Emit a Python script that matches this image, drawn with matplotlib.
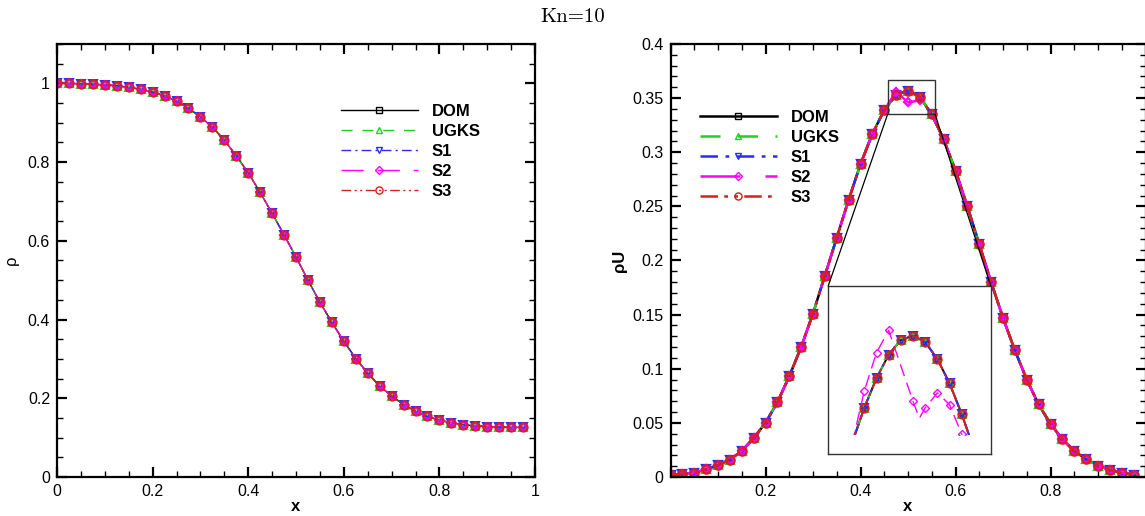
import matplotlib
matplotlib.use("Agg")
import matplotlib.pyplot as plt
from matplotlib.patches import Rectangle, ConnectionPatch
from matplotlib.ticker import MultipleLocator, FixedLocator

plt.rcParams['font.family'] = ['Liberation Sans', 'DejaVu Sans']

# grid points (cell positions)
x = [0.0, 0.025, 0.05, 0.075, 0.1, 0.125, 0.15, 0.175, 0.2, 0.225,
     0.25, 0.275, 0.3, 0.325, 0.35, 0.375, 0.4, 0.425, 0.45, 0.475,
     0.5, 0.525, 0.55, 0.575, 0.6, 0.625, 0.65, 0.675, 0.7, 0.725,
     0.75, 0.775, 0.8, 0.825, 0.85, 0.875, 0.9, 0.925, 0.95, 0.975]

rho = [1.000, 1.000, 0.999, 0.998, 0.996, 0.994, 0.990, 0.985, 0.978, 0.968,
       0.955, 0.937, 0.915, 0.889, 0.856, 0.816, 0.773, 0.723, 0.670, 0.615,
       0.559, 0.500, 0.444, 0.393, 0.345, 0.301, 0.264, 0.231, 0.206, 0.184,
       0.167, 0.154, 0.144, 0.138, 0.133, 0.130, 0.128, 0.127, 0.126, 0.126]

rhou = [0.002, 0.003, 0.004, 0.007, 0.011, 0.016, 0.024, 0.036, 0.050, 0.069,
        0.093, 0.120, 0.151, 0.186, 0.221, 0.256, 0.289, 0.317, 0.339, 0.353,
        0.357, 0.351, 0.335, 0.312, 0.283, 0.250, 0.215, 0.180, 0.147, 0.117,
        0.090, 0.067, 0.049, 0.035, 0.024, 0.0165, 0.0106, 0.0066, 0.0036, 0.0023]

# S2 deviates a little near the peak
rhou_s2 = list(rhou)
rhou_s2[19] = 0.356
rhou_s2[20] = 0.346
rhou_s2[21] = 0.348

# S2 curve shown in the zoom window
s2_zoom_x = [0.375, 0.4, 0.425, 0.45, 0.5, 0.513, 0.525, 0.55, 0.575, 0.6, 0.61]
s2_zoom_y = [0.255, 0.305, 0.341, 0.362, 0.295, 0.279, 0.289, 0.303, 0.292, 0.264, 0.25]

methods = ['DOM', 'UGKS', 'S1', 'S2', 'S3']
colors = ['black', '#1ed31e', '#2a2aff', '#ff00ff', '#d81e1e']
markers = ['s', '^', 'v', 'D', 'o']
msizes = [5, 5.5, 5.5, 4.5, 6]
styles = ['-', (0, (8, 7)), (0, (7, 3, 1.5, 3)), (0, (16, 10)), (0, (7, 2.5, 1.5, 2.5, 1.5, 2.5))]

rho_ticks = [0, 0.2, 0.4, 0.6, 0.8, 1.0]
rho_labels = ['0', '0.2', '0.4', '0.6', '0.8', '1']
x_ticks = [0, 0.2, 0.4, 0.6, 0.8, 1.0]
x1_labels = ['0', '0.2', '0.4', '0.6', '0.8', '1']
x2_labels = ['', '0.2', '0.4', '0.6', '0.8', '']
rhou_ticks = [0, 0.05, 0.1, 0.15, 0.2, 0.25, 0.3, 0.35, 0.4]
rhou_labels = ['0', '0.05', '0.1', '0.15', '0.2', '0.25', '0.3', '0.35', '0.4']

W, H = 1145, 516
fig = plt.figure(figsize=(W / 100, H / 100), dpi=100)
ax1 = fig.add_axes([57 / W, 39 / H, 478 / W, 433 / H])
ax2 = fig.add_axes([670.5 / W, 39 / H, 475 / W, 433 / H])


def style_axes(ax):
    for s in ax.spines.values():
        s.set_linewidth(1.6)
    ax.tick_params(which='both', direction='in', top=True, right=True, labelsize=11.5)
    ax.tick_params(which='major', length=7.5, width=1.6, pad=5)
    ax.tick_params(which='minor', length=4.3, width=1.0)


for i, m in enumerate(methods):
    ax1.plot(x, rho, color=colors[i], ls=styles[i], lw=1.0, marker=markers[i],
             ms=msizes[i], mfc='none', mew=1.4, label=m)
    yv = rhou_s2 if m == 'S2' else rhou
    ax2.plot(x, yv, color=colors[i], ls=styles[i], lw=1.8, marker=markers[i],
             ms=msizes[i], mfc='none', mew=1.6, label=m)

ax1.set_xlim(0, 1)
ax1.set_ylim(0, 1.1)
ax1.xaxis.set_major_locator(FixedLocator(x_ticks))
ax1.xaxis.set_minor_locator(MultipleLocator(0.05))
ax1.yaxis.set_major_locator(FixedLocator(rho_ticks))
ax1.yaxis.set_minor_locator(MultipleLocator(0.05))
ax1.set_xticklabels(x1_labels)
ax1.set_yticklabels(rho_labels)
ax1.set_xlabel('x', fontsize=12, fontweight='bold', labelpad=0)
ax1.set_ylabel('ρ', fontsize=12, labelpad=6)
style_axes(ax1)

ax2.set_xlim(0, 1)
ax2.set_ylim(0, 0.4)
ax2.xaxis.set_major_locator(FixedLocator(x_ticks))
ax2.xaxis.set_minor_locator(MultipleLocator(0.05))
ax2.set_xticklabels(x2_labels)
ax2.yaxis.set_major_locator(FixedLocator(rhou_ticks))
ax2.yaxis.set_minor_locator(MultipleLocator(0.01))
ax2.set_yticklabels(rhou_labels)
ax2.set_xlabel('x', fontsize=12, fontweight='bold', labelpad=0)
ax2.set_ylabel('ρU', fontsize=12, fontweight='bold', labelpad=4)
style_axes(ax2)

leg_kw = dict(frameon=False, handlelength=4.6, handletextpad=0.85, labelspacing=0.3,
              borderpad=0, borderaxespad=0, numpoints=1, markerscale=0.85,
              prop={'weight': 'bold', 'size': 12})
l1 = ax1.legend(loc='upper left', bbox_to_anchor=(0.594, 0.862), **leg_kw)
l2 = ax2.legend(loc='upper left', bbox_to_anchor=(0.062, 0.848), **leg_kw)
for leg in (l1, l2):
    for h in leg.get_lines():
        h.set_markeredgewidth(1.0)

# zoom window on the peak
zx0, zx1, zy0, zy1 = 0.457, 0.557, 0.335, 0.367
ax2.add_patch(Rectangle((zx0, zy0), zx1 - zx0, zy1 - zy0, fill=False,
                        ec='#333333', lw=1.0, zorder=5))

ins = fig.add_axes([828.3 / W, (H - 453.7) / H, 162.4 / W, 168 / H])
ins.set_xlim(0.326, 0.6595)
ins.set_ylim(0.2456, 0.4042)
ins.set_xticks([])
ins.set_yticks([])
for s in ins.spines.values():
    s.set_linewidth(1.0)
    s.set_edgecolor('#333333')

clip = Rectangle((0.37, 0.263), 0.28, 0.15, transform=ins.transData)
for i, m in enumerate(methods):
    if m == 'S2':
        ln, = ins.plot(s2_zoom_x, s2_zoom_y, color=colors[i], ls=(0, (9, 5)), lw=1.0,
                       marker=markers[i], ms=msizes[i], mfc='none', mew=1.0,
                       markevery=[1, 2, 3, 4, 6, 7, 8, 9])
    else:
        ln, = ins.plot(x, rhou, color=colors[i], ls=styles[i], lw=1.4, marker=markers[i],
                       ms=msizes[i], mfc='none', mew=1.4)
    ln.set_clip_path(clip)

for xa, xb in [(zx0, 0.0), (zx1, 1.0)]:
    con = ConnectionPatch(xyA=(xa, zy0), coordsA=ax2.transData,
                          xyB=(xb, 1.0), coordsB=ins.transAxes,
                          color='black', lw=0.9)
    fig.add_artist(con)

fig.text(0.5, 0.985, 'Kn=10', family='cmr10', ha='center', va='top', fontsize=15)

fig.savefig('out.png', dpi=100)
